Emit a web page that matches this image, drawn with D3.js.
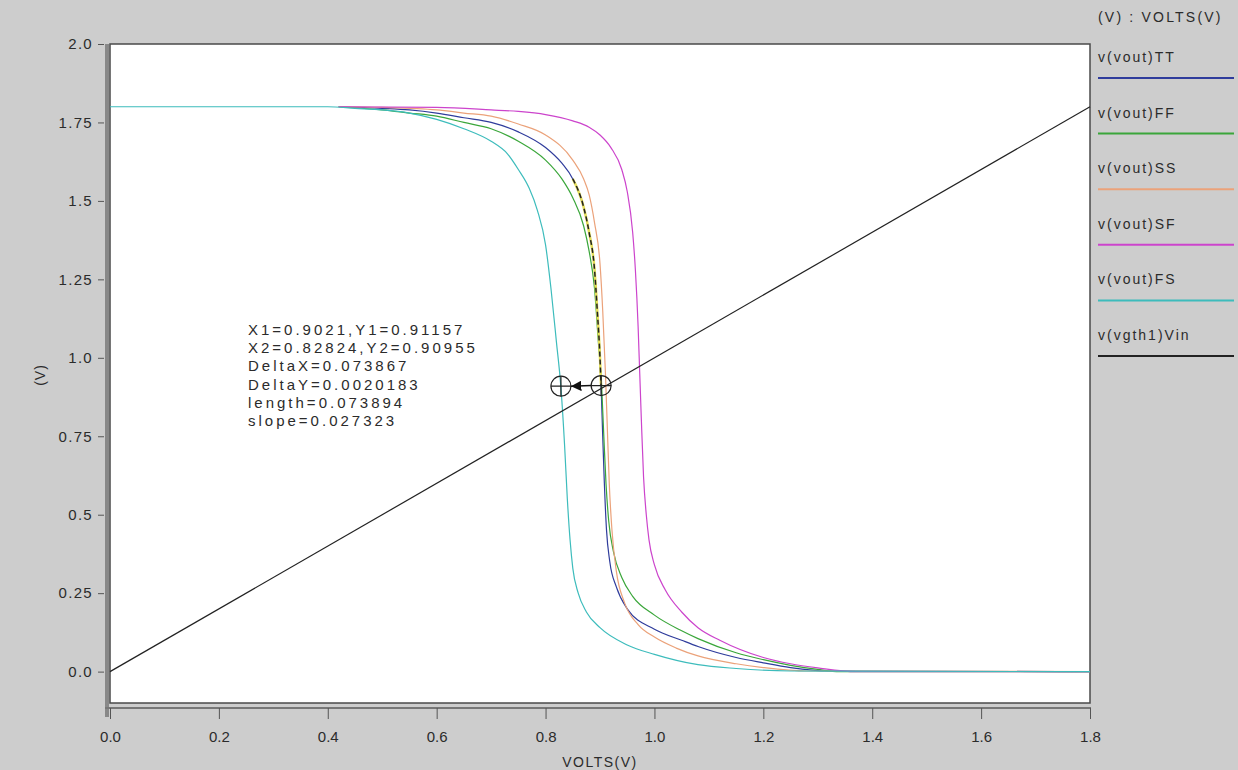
<!DOCTYPE html>
<html>
<head>
<meta charset="utf-8">
<script src="https://cdn.jsdelivr.net/npm/d3@7"></script>
<style>
  body { margin: 0; background: #cdcdcd; }
  text { font-family: "Liberation Sans", Arial, sans-serif; fill: #2b2b2b; }
</style>
</head>
<body>
<div id="chart"></div>
<script>
// transfer curves, [Vin, Vout] in volts
var ttCurve = [[0.42,1.8],[0.5,1.795],[0.55,1.79],[0.6,1.78],[0.65,1.765],[0.7,1.75],[0.75,1.72],[0.8,1.67],[0.83,1.62],[0.85,1.57],[0.87,1.48],[0.88,1.4],[0.89,1.28],[0.895,1.15],[0.9,1.0],[0.902,0.91],[0.905,0.75],[0.908,0.6],[0.912,0.45],[0.918,0.35],[0.93,0.27],[0.95,0.2],[1.0,0.135],[1.05,0.1],[1.08,0.08],[1.15,0.045],[1.2,0.028],[1.25,0.013],[1.32,0.002],[1.8,0]];
var ffCurve = [[0.42,1.8],[0.5,1.79],[0.55,1.78],[0.6,1.77],[0.65,1.75],[0.7,1.73],[0.75,1.69],[0.8,1.63],[0.83,1.57],[0.85,1.51],[0.87,1.42],[0.88,1.34],[0.89,1.22],[0.897,1.05],[0.903,0.91],[0.907,0.75],[0.911,0.6],[0.916,0.48],[0.925,0.38],[0.94,0.3],[0.96,0.24],[1.0,0.18],[1.05,0.13],[1.08,0.105],[1.15,0.06],[1.2,0.038],[1.25,0.02],[1.3,0.007],[1.34,0],[1.8,0]];
var ssCurve = [[0.42,1.8],[0.5,1.798],[0.6,1.79],[0.65,1.78],[0.7,1.77],[0.75,1.745],[0.8,1.71],[0.85,1.63],[0.87,1.57],[0.88,1.52],[0.89,1.43],[0.9,1.3],[0.905,1.15],[0.91,0.95],[0.913,0.8],[0.917,0.6],[0.922,0.45],[0.93,0.32],[0.945,0.22],[0.97,0.15],[1.0,0.11],[1.04,0.075],[1.08,0.05],[1.15,0.025],[1.2,0.013],[1.28,0.002],[1.8,0]];
var sfCurve = [[0.42,1.8],[0.6,1.798],[0.7,1.79],[0.75,1.785],[0.8,1.775],[0.85,1.755],[0.88,1.735],[0.9,1.71],[0.92,1.67],[0.94,1.6],[0.95,1.53],[0.96,1.4],[0.965,1.28],[0.97,1.1],[0.973,0.95],[0.976,0.8],[0.98,0.62],[0.985,0.5],[0.99,0.42],[1.0,0.34],[1.02,0.26],[1.05,0.19],[1.08,0.14],[1.12,0.1],[1.2,0.045],[1.25,0.025],[1.3,0.012],[1.37,0],[1.8,0]];
var fsCurve = [[0,1.8],[0.4,1.8],[0.45,1.795],[0.5,1.79],[0.55,1.78],[0.6,1.76],[0.65,1.73],[0.7,1.69],[0.73,1.65],[0.75,1.6],[0.77,1.54],[0.785,1.47],[0.8,1.36],[0.81,1.22],[0.82,1.05],[0.828,0.91],[0.835,0.72],[0.84,0.55],[0.845,0.42],[0.85,0.33],[0.86,0.25],[0.875,0.19],[0.9,0.14],[0.95,0.085],[1.0,0.055],[1.08,0.022],[1.15,0.01],[1.25,0.002],[1.8,0]];
var vinLine = [[0,0],[1.8,1.8]];

var seriesNames = ["v(vout)TT", "v(vout)FF", "v(vout)SS", "v(vout)SF", "v(vout)FS", "v(vgth1)Vin"];
var seriesColors = ["#2f3c9c", "#3aa63a", "#eba27a", "#cc44cc", "#3dbcbc", "#222222"];
var seriesData = [ttCurve, ffCurve, ssCurve, sfCurve, fsCurve, vinLine];

var xTicks = [0, 0.2, 0.4, 0.6, 0.8, 1.0, 1.2, 1.4, 1.6, 1.8];
var xTickLabels = ["0.0", "0.2", "0.4", "0.6", "0.8", "1.0", "1.2", "1.4", "1.6", "1.8"];
var yTicks = [0, 0.25, 0.5, 0.75, 1.0, 1.25, 1.5, 1.75, 2.0];
var yTickLabels = ["0.0", "0.25", "0.5", "0.75", "1.0", "1.25", "1.5", "1.75", "2.0"];

// cursor readout
var cursor1 = [0.9021, 0.91157];
var cursor2 = [0.82824, 0.90955];
var readout = ["X1=0.9021,Y1=0.91157", "X2=0.82824,Y2=0.90955", "DeltaX=0.073867",
  "DeltaY=0.0020183", "length=0.073894", "slope=0.027323"];

var width = 1238, height = 770;
var plotLeft = 110, plotRight = 1090, plotTop = 44, plotBottom = 703;

var svg = d3.select("#chart").append("svg")
  .attr("width", width)
  .attr("height", height);

var x = d3.scaleLinear().domain([0, 1.8]).range([plotLeft, plotRight]);
var y = d3.scaleLinear().domain([-0.1, 2.0]).range([plotBottom, plotTop]);

// plot area
svg.append("rect")
  .attr("x", plotLeft).attr("y", plotTop)
  .attr("width", plotRight - plotLeft).attr("height", plotBottom - plotTop)
  .attr("fill", "#fff")
  .attr("stroke", "#4a4a4a")
  .attr("stroke-width", 1.5);

// y axis bar + ticks
svg.append("line")
  .attr("x1", 107).attr("x2", 107)
  .attr("y1", plotTop).attr("y2", 717)
  .attr("stroke", "#888").attr("stroke-width", 4);
var yAxis = svg.append("g")
  .attr("transform", "translate(104,0)")
  .call(d3.axisLeft(y).tickValues(yTicks).tickSize(6).tickPadding(5)
    .tickFormat(function(d, i) { return yTickLabels[i]; }));
yAxis.select(".domain").remove();
yAxis.selectAll("line").attr("stroke", "#555");
yAxis.selectAll("text").attr("font-size", 15).attr("fill", "#2b2b2b")
  .style("letter-spacing", "1.3px");

// x axis line + ticks
svg.append("line")
  .attr("x1", 105).attr("x2", plotRight + 1)
  .attr("y1", 708).attr("y2", 708)
  .attr("stroke", "#777").attr("stroke-width", 2);
var xAxis = svg.append("g")
  .attr("transform", "translate(0,708)")
  .call(d3.axisBottom(x).tickValues(xTicks).tickSize(11).tickPadding(12)
    .tickFormat(function(d, i) { return xTickLabels[i]; }));
xAxis.select(".domain").remove();
xAxis.selectAll("line").attr("stroke", "#555");
xAxis.selectAll("text").attr("font-size", 15).attr("fill", "#2b2b2b");

svg.append("text")
  .attr("x", x(0.9)).attr("y", 767)
  .attr("text-anchor", "middle")
  .attr("font-size", 14)
  .style("letter-spacing", "1.5px")
  .text("VOLTS(V)");

svg.append("text")
  .attr("transform", "translate(45,375) rotate(-90)")
  .attr("text-anchor", "middle")
  .attr("font-size", 14)
  .style("letter-spacing", "1px")
  .text("(V)");

// curves
var line = d3.line()
  .curve(d3.curveMonotoneX)
  .x(function(d) { return x(d[0]); })
  .y(function(d) { return y(d[1]); });

var plot = svg.append("g");
for (var i in seriesData) {
  plot.append("path")
    .attr("d", line(seriesData[i]))
    .attr("fill", "none")
    .attr("stroke", seriesColors[i])
    .attr("stroke-width", 1.2);
}

// highlighted stretch of the selected trace
var picked = ttCurve.filter(function(d) { return d[1] >= 0.9 && d[1] <= 1.6; });
plot.append("path")
  .attr("d", line(picked))
  .attr("fill", "none")
  .attr("stroke", "#e6df5a")
  .attr("stroke-width", 2.5);
plot.append("path")
  .attr("d", line(picked))
  .attr("fill", "none")
  .attr("stroke", "#222")
  .attr("stroke-width", 1.5)
  .style("stroke-dasharray", ("5, 3"));

// cursors
svg.append("defs").append("marker")
  .attr("id", "arrow")
  .attr("viewBox", "0 0 10 10")
  .attr("refX", 10).attr("refY", 5)
  .attr("markerWidth", 7).attr("markerHeight", 7)
  .attr("orient", "auto")
  .append("path")
  .attr("d", "M 0 0 L 10 5 L 0 10 z")
  .attr("fill", "#111");

var r = 10;
[cursor1, cursor2].forEach(function(c) {
  var cx = x(c[0]), cy = y(c[1]);
  var g = svg.append("g");
  g.append("circle")
    .attr("cx", cx).attr("cy", cy).attr("r", r)
    .attr("fill", "none").attr("stroke", "#222").attr("stroke-width", 1.2);
  g.append("path")
    .attr("d", ["M", cx - r, cy, "L", cx + r, cy, "M", cx, cy - r, "L", cx, cy + r].join(" "))
    .attr("stroke", "#222").attr("stroke-width", 1.2);
});
svg.append("line")
  .attr("x1", x(cursor1[0]) - r).attr("y1", y(cursor1[1]))
  .attr("x2", x(cursor2[0]) + r).attr("y2", y(cursor2[1]))
  .attr("stroke", "#111").attr("stroke-width", 1.5)
  .attr("marker-end", "url(#arrow)");

var note = svg.append("text")
  .attr("x", 248).attr("y", 335)
  .attr("font-size", 15)
  .style("letter-spacing", "3px");
note.selectAll("tspan")
  .data(readout)
  .enter().append("tspan")
  .attr("x", 248)
  .attr("dy", function(d, i) { return i == 0 ? 0 : 18.2; })
  .text(function(d) { return d; });

// legend
svg.append("text")
  .attr("x", 1098).attr("y", 22)
  .attr("font-size", 14)
  .style("letter-spacing", "2.2px")
  .text("(V) : VOLTS(V)");
for (var i in seriesNames) {
  var ly = 62 + i * 55.6;
  svg.append("text")
    .attr("x", 1098).attr("y", ly)
    .attr("font-size", 14)
    .style("letter-spacing", "2px")
    .text(seriesNames[i]);
  svg.append("line")
    .attr("x1", 1098).attr("x2", 1234)
    .attr("y1", ly + 16).attr("y2", ly + 16)
    .attr("stroke", seriesColors[i])
    .attr("stroke-width", 2);
}
</script>
</body>
</html>
